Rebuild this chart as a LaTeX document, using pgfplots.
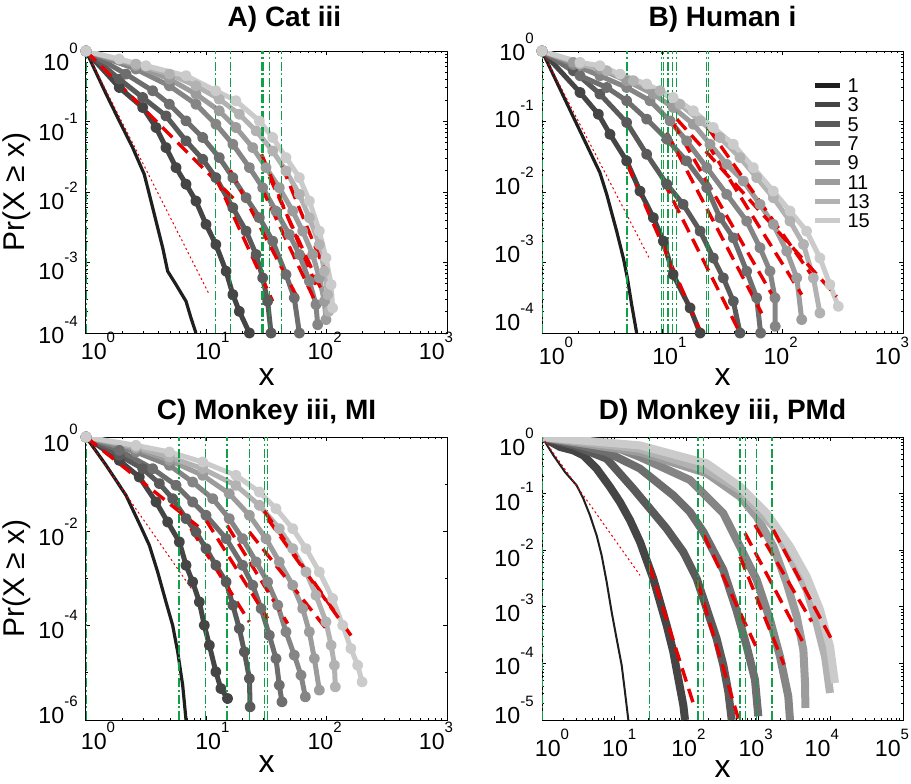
\documentclass[border=0pt]{standalone}
\usepackage{fontspec}
\setmainfont{Liberation Sans}
\usepackage{pgfplots}
\pgfplotsset{compat=1.18}
\definecolor{g1}{HTML}{1F1F1F}
\definecolor{g3}{HTML}{454545}
\definecolor{g5}{HTML}{5A5A5A}
\definecolor{g7}{HTML}{6E6E6E}
\definecolor{g9}{HTML}{858585}
\definecolor{g11}{HTML}{9C9C9C}
\definecolor{g13}{HTML}{B2B2B2}
\definecolor{g15}{HTML}{CBCBCB}
\definecolor{fitred}{HTML}{E80000}
\definecolor{vgreen}{HTML}{0FA048}
\newcommand{\ex}[1]{10\raisebox{8.6pt}{\fontsize{7.5}{7.5}\selectfont #1}}
\newcommand{\xl}[2]{\raisebox{0pt}[0pt][0pt]{\makebox[0pt][c]{\hspace*{#1}\hspace*{#1}\ex{#2}}}}
\newcommand{\yl}[2]{\raisebox{#1}[0pt][0pt]{\ex{#2}}}
\pgfplotsset{
  panel/.style={
    scale only axis, width=180.5pt, height=141pt,
    axis line style={line width=0.5pt, black},
    every tick/.style={black, line width=0.4pt},
    major tick length=2.2pt, minor tick length=1.2pt,
    tick align=inside, tick pos=both,
    ticklabel style={font=\fontsize{11.6}{12}\selectfont},
    every axis title shift=0pt,
    title style={font=\bfseries\fontsize{14}{14}\selectfont, at={(0.5,1)}, anchor=base, yshift=12.5pt},
    xlabel style={font=\fontsize{16}{16}\selectfont, at={(axis description cs:0.5,0)}, anchor=base, yshift=-26pt, inner sep=0pt},
    ylabel style={font=\fontsize{15}{15}\selectfont, at={(axis description cs:-0.169,0.5)}, anchor=base, inner sep=0pt},
    xlabel={x},
  },
  xabc/.style={xmin=1, xmax=1000, xtick={1,10,100,1000},
    xticklabels={\xl{6pt}{0},\xl{3pt}{1},\xl{-1pt}{2},\xl{-5.5pt}{3}},
    minor xtick={2,3,4,5,6,7,8,9,20,30,40,50,60,70,80,90,200,300,400,500,600,700,800,900}},
  gk/.style={color=#1, line width=2.5pt, mark=*, mark size=1.5pt, mark options={solid, fill=#1, draw=#1}, line join=round},
  gone/.style={color=g1, line width=1.6pt, mark=none, line join=round},
  gd/.style={color=#1, line width=4pt, mark=none, line join=round},
  fit/.style={color=fitred, line width=1.7pt, dash pattern=on 7pt off 3.8pt, forget plot},
  fitthin/.style={color=fitred, line width=0.5pt, dash pattern=on 1pt off 1.4pt, forget plot},
  vmin/.style={color=vgreen, line width=0.55pt, dash pattern=on 4.5pt off 1.4pt on 0.9pt off 1.4pt, forget plot},
}
\begin{document}
\begin{tikzpicture}
\useasboundingbox (0,0) rectangle (455.5pt,-391.5pt);
% ---------------- A ----------------
\begin{loglogaxis}[panel, xabc, at={(43pt,-25.5pt)}, anchor=north west,
  title={A) Cat iii}, title style={xshift=9pt},
  ylabel={Pr(X ≥ x)},
  xticklabel style={anchor=north, inner sep=0pt, yshift=-12.5pt},
  yticklabel style={anchor=east, inner sep=0pt, xshift=-4pt},
  ymin=1e-4, ymax=1, ytick={1e-4,1e-3,1e-2,1e-1,1},
  yticklabels={\yl{-5.2pt}{-4},\yl{-8.7pt}{-3},\yl{-8.7pt}{-2},\yl{-9.7pt}{-1},\yl{-9.7pt}{0}},
  minor ytick={2e-4,3e-4,4e-4,5e-4,6e-4,7e-4,8e-4,9e-4,2e-3,3e-3,4e-3,5e-3,6e-3,7e-3,8e-3,9e-3,2e-2,3e-2,4e-2,5e-2,6e-2,7e-2,8e-2,9e-2,0.2,0.3,0.4,0.5,0.6,0.7,0.8,0.9}]
\addplot[gone] coordinates {(1,1) (1.47,0.245) (1.89,0.102) (2.44,0.0427) (3.05,0.0178) (3.36,0.00927) (3.82,0.00387) (4.34,0.00162) (4.77,7.53e-4) (5.6,4.86e-4) (6.78,2.82e-4) (7.46,1.63e-4) (8.2,1e-4)};
\addplot[gk=g3] coordinates {(1,1) (1.89,0.304) (2.96,0.158) (3.82,0.0822) (4.62,0.0427) (5.6,0.0222) (6.78,0.0129) (8.2,0.00745) (9.94,0.00347) (12.0,0.0018) (14.6,7.53e-4) (16.6,3.51e-4) (18.8,2.03e-4) (22.8,1e-4)};
\addplot[gk=g5] coordinates {(1,1) (1.89,0.4) (2.96,0.219) (4.62,0.12) (6.78,0.0531) (9.33,0.0291) (12.0,0.016) (16.6,0.00599) (21.4,0.00279) (25.9,0.0013) (29.4,6.05e-4) (32.3,2.82e-4) (34.5,1e-4)};
\addplot[gk=g7] coordinates {(1,1) (2.15,0.471) (3.58,0.273) (4.93,0.176) (6.78,0.102) (9.33,0.0593) (12.8,0.0308) (16.6,0.016) (21.4,0.0083) (27.6,0.00432) (35.6,0.00201) (45.9,6.75e-4) (53.8,3.15e-4) (59.3,1e-4)};
\addplot[gk=g9] coordinates {(1,1) (2.6,0.555) (4.93,0.321) (8.2,0.176) (12.0,0.0916) (16.6,0.0476) (22.8,0.0222) (29.4,0.0115) (37.9,0.00537) (48.9,0.0025) (59.3,0.0013) (71.8,5.43e-4) (81.5,2.53e-4) (84.2,1.31e-4)};
\addplot[gk=g11] coordinates {(1,1) (2.6,0.618) (4.93,0.4) (8.2,0.245) (12.8,0.142) (17.6,0.0822) (24.3,0.0427) (31.3,0.0222) (40.4,0.0115) (52.2,0.00537) (63.2,0.00279) (76.5,0.0013) (86.9,6.05e-4) (95.7,2.82e-4) (98.7,1.55e-4)};
\addplot[gk=g13] coordinates {(1,1) (2.6,0.653) (4.93,0.471) (8.2,0.321) (12.8,0.208) (18.8,0.127) (25.9,0.0737) (35.6,0.0383) (45.9,0.0199) (59.3,0.00927) (71.8,0.00432) (86.9,0.0018) (95.7,7.53e-4) (102,3.51e-4) (104,2.03e-4)};
\addplot[gk=g15] coordinates {(1,1) (1.89,0.769) (3.15,0.618) (6.78,0.446) (12.0,0.273) (17.6,0.197) (27.6,0.102) (35.6,0.0593) (45.9,0.0308) (59.3,0.016) (71.8,0.00745) (86.9,0.00279) (98.7,0.00116) (109,4.86e-4) (112,2.27e-4)};
\addplot[fitthin] coordinates {(1,1) (10.6,3.5e-4)};
\addplot[fit] coordinates {(1,1) (18.2,0.00705)};
\addplot[fit] coordinates {(12.0,0.016) (35.6,2.82e-4)};
\addplot[fit] coordinates {(15.8,0.0203) (59.3,2.82e-4)};
\addplot[fit] coordinates {(28.8,0.0115) (82,2.6e-4)};
\addplot[fit] coordinates {(33.4,0.0165) (96,3.3e-4)};
\addplot[fit] coordinates {(28.8,0.0343) (81.5,4.86e-4)};
\addplot[fit] coordinates {(42.5,0.0234) (100,6.75e-4)};
\addplot[vmin] coordinates {(1,1e-4) (1,1)};
\addplot[vmin] coordinates {(11.9,1e-4) (11.9,1)};
\addplot[vmin] coordinates {(15.8,1e-4) (15.8,1)};
\addplot[vmin] coordinates {(28.8,1e-4) (28.8,1)};
\addplot[vmin] coordinates {(29.2,1e-4) (29.2,1)};
\addplot[vmin] coordinates {(29.6,1e-4) (29.6,1)};
\addplot[vmin] coordinates {(33.4,1e-4) (33.4,1)};
\addplot[vmin] coordinates {(42.5,1e-4) (42.5,1)};
\end{loglogaxis}
% ---------------- B ----------------
\begin{loglogaxis}[panel, xabc, at={(271pt,-25.5pt)}, anchor=north west,
  title={B) Human i},
  xticklabel style={anchor=north, inner sep=0pt, yshift=-15pt},
  yticklabel style={anchor=east, inner sep=0pt, xshift=-4pt},
  xticklabels={\xl{7pt}{0},\xl{3.5pt}{1},\xl{-1pt}{2},\xl{-5.5pt}{3}},
  ymin=1e-4, ymax=1, ytick={1e-4,1e-3,1e-2,1e-1,1},
  yticklabels={\yl{1.3pt}{-4},\yl{-0.2pt}{-3},\yl{-1.2pt}{-2},\yl{-3.2pt}{-1},\yl{-4.7pt}{0}},
  minor ytick={2e-4,3e-4,4e-4,5e-4,6e-4,7e-4,8e-4,9e-4,2e-3,3e-3,4e-3,5e-3,6e-3,7e-3,8e-3,9e-3,2e-2,3e-2,4e-2,5e-2,6e-2,7e-2,8e-2,9e-2,0.2,0.3,0.4,0.5,0.6,0.7,0.8,0.9},
  legend style={at={(0.748,0.905)}, anchor=north west, draw=none, fill=none,
    font=\fontsize{10}{10}\selectfont, row sep=2.45pt, inner sep=0pt,
    nodes={inner sep=0pt, text height=7.2pt, text depth=0pt}},
  legend cell align=left,
  legend image code/.code={\draw[#1, line width=2.6pt, mark=none] (0pt,0pt) -- (12.5pt,0pt); \path (15pt,0pt);}]
\addplot[gone] coordinates {(1,1) (1.82,0.116) (3.03,0.0188) (3.45,0.00927) (4.17,0.00279) (4.74,0.00116) (5.12,6.05e-4) (5.56,2.53e-4) (6.12,1e-4)};
\addlegendentry{1}
\addplot[gk=g3] coordinates {(1,1) (2.07,0.258) (2.94,0.127) (3.67,0.066) (5.05,0.0276) (6.52,0.0103) (8.42,0.00432) (10.2,0.00201) (12.3,6.75e-4) (17.0,2.27e-4) (20.6,1e-4)};
\addlegendentry{3}
\addplot[gk=g5] coordinates {(1,1) (1.82,0.525) (3.03,0.245) (5.05,0.0968) (7.41,0.0343) (10.9,0.0129) (14.9,0.00668) (20.6,0.00279) (26.5,0.00116) (32.1,6.05e-4) (38.9,2.82e-4) (44.2,1e-4)};
\addlegendentry{5}
\addplot[gk=g7] coordinates {(1,1) (2.07,0.446) (3.45,0.304) (5.05,0.197) (7.41,0.108) (10.9,0.0561) (15.9,0.0276) (23.4,0.0115) (30.1,0.00432) (38.9,0.00224) (50.2,7.53e-4) (60.8,3.15e-4) (65.6,1e-4)};
\addlegendentry{7}
\addplot[gk=g9] coordinates {(1,1) (1.82,0.64) (3.03,0.446) (5.05,0.304) (7.9,0.197) (11.6,0.102) (15.9,0.0531) (23.4,0.0222) (34.3,0.00927) (50.2,0.00387) (64.8,0.00162) (78.5,7.53e-4) (86.3,3.15e-4) (86.7,1.24e-4)};
\addlegendentry{9}
\addplot[gk=g11] coordinates {(1,1) (1.82,0.69) (3.03,0.555) (5.05,0.379) (8.42,0.245) (12.3,0.158) (18.1,0.0916) (24.9,0.0476) (34.3,0.0247) (47.1,0.0143) (64.8,0.00668) (83.6,0.00347) (108,0.00145) (131,6.05e-4) (144,1.55e-4)};
\addlegendentry{11}
\addplot[gk=g13] coordinates {(1,1) (2.07,0.653) (3.45,0.525) (5.74,0.379) (9.57,0.273) (14.0,0.176) (20.6,0.102) (30.1,0.0593) (44.2,0.0308) (60.8,0.016) (83.6,0.0083) (115,0.00387) (149,0.0018) (180,6.05e-4) (204,1.92e-4)};
\addlegendentry{13}
\addplot[gk=g15] coordinates {(1,1) (2.07,0.69) (3.03,0.618) (4.45,0.471) (7.41,0.34) (12.3,0.219) (18.1,0.142) (26.5,0.0822) (38.9,0.0476) (57.0,0.0222) (83.6,0.0103) (115,0.00537) (158,0.00279) (204,0.00116) (247,4.86e-4) (290,2.39e-4)};
\addlegendentry{15}
\addplot[fitthin] coordinates {(1,1) (7.9,0.0011)};
\addplot[fit] coordinates {(5.12,0.0247) (21,1e-4)};
\addplot[fit] coordinates {(10.2,0.0143) (44.2,1e-4)};
\addplot[fit] coordinates {(10.9,0.07) (67,1.9e-4)};
\addplot[fit] coordinates {(12.1,0.1) (86,3e-4)};
\addplot[fit] coordinates {(23.4,0.05) (144,3.5e-4)};
\addplot[fit] coordinates {(24.1,0.08) (204,4.5e-4)};
\addplot[fit] coordinates {(13.2,0.108) (281,3.3e-4)};
\addplot[vmin] coordinates {(1,1e-4) (1,1)};
\addplot[vmin] coordinates {(5.09,1e-4) (5.09,1)};
\addplot[vmin] coordinates {(9.87,1e-4) (9.87,1)};
\addplot[vmin] coordinates {(10.2,1e-4) (10.2,1)};
\addplot[vmin] coordinates {(11.0,1e-4) (11.0,1)};
\addplot[vmin] coordinates {(11.2,1e-4) (11.2,1)};
\addplot[vmin] coordinates {(12.1,1e-4) (12.1,1)};
\addplot[vmin] coordinates {(13.2,1e-4) (13.2,1)};
\addplot[vmin] coordinates {(23.4,1e-4) (23.4,1)};
\addplot[vmin] coordinates {(24.1,1e-4) (24.1,1)};
\end{loglogaxis}
% ---------------- C ----------------
\begin{loglogaxis}[panel, xabc, at={(43pt,-218.5pt)}, anchor=north west, height=141.5pt,
  title={C) Monkey iii, MI}, title style={yshift=-3.5pt},
  ylabel={Pr(X ≥ x)},
  xticklabel style={anchor=north, inner sep=0pt, yshift=-14pt},
  yticklabel style={anchor=east, inner sep=0pt, xshift=-4pt},
  ymin=1e-6, ymax=1, ytick={1e-6,1e-4,1e-2,1},
  yticklabels={\yl{-1.7pt}{-6},\yl{-6.2pt}{-4},\yl{-7.2pt}{-2},\yl{-7.2pt}{0}},
  minor ytick={1e-5,1e-3,1e-1}]
\addplot[gone] coordinates {(1,1) (1.47,0.251) (2.15,0.0581) (2.86,0.0124) (3.36,0.00507) (3.94,0.00138) (4.62,3.19e-4) (5.25,1.02e-4) (5.78,2.79e-5) (6.36,5.48e-6) (6.78,1e-6)};
\addplot[gk=g3] coordinates {(1,1) (1.89,0.321) (2.77,0.142) (3.82,0.042) (4.77,0.0158) (5.97,0.00596) (6.78,0.00191) (7.7,8.47e-4) (8.75,3.19e-4) (9.62,1.02e-4) (10.6,3.85e-5) (12.0,1.05e-5) (13.2,4.66e-6) (15.0,2.86e-6)};
\addplot[gk=g5] coordinates {(1,1) (1.89,0.409) (2.96,0.213) (4.07,0.103) (5.25,0.0493) (6.78,0.0186) (8.2,0.0097) (9.94,0.00431) (12.0,0.00191) (14.6,8.47e-4) (16.6,2.72e-4) (18.8,8.7e-5) (20.7,2.79e-5) (22.8,7.59e-6) (23.1,1.9e-6)};
\addplot[gk=g7] coordinates {(1,1) (1.89,0.522) (3.58,0.213) (5.6,0.0946) (7.7,0.042) (9.94,0.0219) (14.6,0.00702) (20.0,0.00191) (24.3,7.2e-4) (28.5,2.31e-4) (33.4,6.28e-5) (37.9,2.01e-5) (40.4,5.48e-6) (42.5,2.43e-6)};
\addplot[gk=g9] coordinates {(1,1) (2.6,0.481) (4.93,0.251) (7.7,0.111) (11.3,0.0494) (15.5,0.0186) (20.0,0.00702) (25.9,0.00225) (32.3,8.47e-4) (39.2,2.72e-4) (45.9,7.4e-5) (53.8,2.37e-5) (61.2,8.93e-6) (66.5,3.1e-6)};
\addplot[gk=g11] coordinates {(1,1) (2.6,0.566) (4.93,0.321) (9.33,0.154) (15.5,0.063) (22.8,0.0219) (31.3,0.00702) (40.4,0.00225) (52.2,7.2e-4) (63.2,2.31e-4) (71.8,7.4e-5) (79.0,2.01e-5) (86.9,4.3e-6)};
\addplot[gk=g13] coordinates {(1,1) (2.6,0.614) (4.93,0.377) (9.33,0.213) (17.6,0.0946) (27.6,0.0357) (40.4,0.0114) (52.2,0.00431) (67.3,0.00138) (81.5,4.42e-4) (98.7,1.2e-4) (109,3.85e-5) (116,1.45e-5) (118,5.05e-6)};
\addplot[gk=g15] coordinates {(1,1) (2.6,0.666) (4.93,0.481) (9.33,0.295) (17.6,0.154) (27.6,0.0684) (37.9,0.0303) (52.2,0.0114) (67.3,0.00431) (86.9,0.00138) (112,3.76e-4) (136,1.02e-4) (159,3.28e-5) (181,1.45e-5) (197,6.44e-6)};
\addplot[fitthin] coordinates {(1,1) (7.7,5.6e-4)};
\addplot[fit] coordinates {(1,1) (9.0,0.0114)};
\addplot[fit] coordinates {(5.97,0.0279) (22.8,1.2e-4)};
\addplot[fit] coordinates {(9.94,0.0172) (32.3,1.42e-4)};
\addplot[fit] coordinates {(14.9,0.0134) (47.4,1.11e-4)};
\addplot[fit] coordinates {(22.8,0.0097) (98.7,8.7e-5)};
\addplot[fit] coordinates {(30.3,0.027) (116,2.0e-4)};
\addplot[fit] coordinates {(32.3,0.0186) (170,4.92e-5)};
\addplot[vmin] coordinates {(1,1e-6) (1,1)};
\addplot[vmin] coordinates {(5.89,1e-6) (5.89,1)};
\addplot[vmin] coordinates {(5.97,1e-6) (5.97,1)};
\addplot[vmin] coordinates {(9.82,1e-6) (9.82,1)};
\addplot[vmin] coordinates {(14.8,1e-6) (14.8,1)};
\addplot[vmin] coordinates {(15.0,1e-6) (15.0,1)};
\addplot[vmin] coordinates {(22.8,1e-6) (22.8,1)};
\addplot[vmin] coordinates {(30.3,1e-6) (30.3,1)};
\addplot[vmin] coordinates {(32.3,1e-6) (32.3,1)};
\end{loglogaxis}
% ---------------- D ----------------
\begin{loglogaxis}[panel, at={(271pt,-218.5pt)}, anchor=north west, height=141.5pt,
  title={D) Monkey iii, PMd}, title style={yshift=-3.5pt},
  xlabel style={yshift=-2.5pt},
  xticklabel style={anchor=north, inner sep=0pt, yshift=-17.5pt},
  yticklabel style={anchor=east, inner sep=0pt, xshift=-4pt},
  xmin=1, xmax=1e5, xtick={1,10,100,1000,10000,100000},
  xticklabels={\xl{5pt}{0},\xl{2.5pt}{1},\xl{1pt}{2},\xl{-1.5pt}{3},\xl{-4.5pt}{4},\xl{-5.5pt}{5}},
  minor xtick={2,3,4,5,6,7,8,9,20,30,40,50,60,70,80,90,200,300,400,500,600,700,800,900,2000,3000,4000,5000,6000,7000,8000,9000,20000,30000,40000,50000,60000,70000,80000,90000},
  ymin=1e-5, ymax=1, ytick={1e-5,1e-4,1e-3,1e-2,1e-1,1},
  yticklabels={\yl{-1.7pt}{-5},\yl{-5.7pt}{-4},\yl{-7.2pt}{-3},\yl{-8.2pt}{-2},\yl{-8.2pt}{-1},\yl{-9.2pt}{0}},
  minor ytick={2e-5,3e-5,4e-5,5e-5,6e-5,7e-5,8e-5,9e-5,2e-4,3e-4,4e-4,5e-4,6e-4,7e-4,8e-4,9e-4,2e-3,3e-3,4e-3,5e-3,6e-3,7e-3,8e-3,9e-3,2e-2,3e-2,4e-2,5e-2,6e-2,7e-2,8e-2,9e-2,0.2,0.3,0.4,0.5,0.6,0.7,0.8,0.9}]
\addplot[color=g1, line width=1pt] coordinates {(1,1) (1.44,0.474) (2.08,0.241) (3.02,0.14) (3.74,0.0813) (4.62,0.0413) (5.71,0.0183) (6.7,0.0081) (7.87,0.00274) (9.22,8.09e-4) (10.8,2.74e-4) (12.7,9.24e-5) (14.1,3.13e-5) (15.7,1e-5)};
\addplot[gd=g3] coordinates {(1,1) (1.78,0.666) (2.72,0.581) (3.74,0.474) (5.71,0.276) (8.75,0.131) (12.0,0.0711) (16.6,0.0337) (22.8,0.014) (34.8,0.00314) (43.1,0.00122) (53.3,4.71e-4) (65.9,1.59e-4) (77.3,5.37e-5) (90.7,1.82e-5) (95.7,1e-5)};
\addplot[gd=g5] coordinates {(1,1) (2.72,0.713) (7.87,0.414) (18.4,0.122) (31.3,0.0542) (53.3,0.024) (90.7,0.0093) (139,0.00314) (172,0.00139) (212,6.17e-4) (262,2.74e-4) (325,9.24e-5) (381,3.13e-5) (424,1e-5)};
\addplot[gd=g7] coordinates {(1,1) (2.72,0.762) (7.87,0.543) (22.8,0.276) (65.9,0.0931) (112,0.0473) (172,0.021) (324,0.0045) (497,8.5e-4) (684,2.0e-4) (891,5.15e-5) (991,1.16e-5)};
\addplot[gd=g9] coordinates {(1,1) (12.6,0.6) (22.8,0.443) (112,0.174) (324,0.045) (552,0.0116) (941,0.003) (1439,5.9e-4) (1977,1.33e-4) (2577,2.62e-5) (2723,1e-5)};
\addplot[gd=g11] coordinates {(1,1) (22.8,0.54) (191,0.229) (552,0.0885) (941,0.039) (1602,0.0116) (2450,0.00262) (3368,6.8e-4) (4170,1.74e-4) (4395,4.5e-5) (4450,1.63e-5)};
\addplot[gd=g13] coordinates {(1,1) (22.8,0.62) (191,0.262) (552,0.116) (1602,0.0262) (2723,0.0077) (4634,0.002) (6368,5.15e-4) (8318,1.33e-4) (9750,3.0e-5)};
\addplot[gd=g15] coordinates {(1,1) (22.8,0.71) (191,0.343) (552,0.133) (1294,0.045) (2723,0.0116) (4634,0.00343) (7079,8.9e-4) (9750,2.0e-4) (11430,4.5e-5)};
\addplot[fitthin] coordinates {(1,1) (22.8,0.0036)};
\addplot[fit] coordinates {(30.7,0.0054) (125,1.94e-5)};
\addplot[fit] coordinates {(142,0.0028) (524,1.06e-5)};
\addplot[fit] coordinates {(175,0.0183) (941,1.87e-4)};
\addplot[fit] coordinates {(552,0.0077) (2249,9.5e-5)};
\addplot[fit] coordinates {(648,0.02) (4170,2.29e-4)};
\addplot[fit] coordinates {(891,0.028) (5433,5.5e-4)};
\addplot[fit] coordinates {(1602,0.0228) (10620,2.44e-4)};
\addplot[vmin] coordinates {(1,1e-5) (1,1)};
\addplot[vmin] coordinates {(30.7,1e-5) (30.7,1)};
\addplot[vmin] coordinates {(142,1e-5) (142,1)};
\addplot[vmin] coordinates {(145,1e-5) (145,1)};
\addplot[vmin] coordinates {(175,1e-5) (175,1)};
\addplot[vmin] coordinates {(552,1e-5) (552,1)};
\addplot[vmin] coordinates {(560,1e-5) (560,1)};
\addplot[vmin] coordinates {(662,1e-5) (662,1)};
\addplot[vmin] coordinates {(941,1e-5) (941,1)};
\addplot[vmin] coordinates {(1518,1e-5) (1518,1)};
\addplot[vmin] coordinates {(1540,1e-5) (1540,1)};
\end{loglogaxis}
\end{tikzpicture}
\end{document}
